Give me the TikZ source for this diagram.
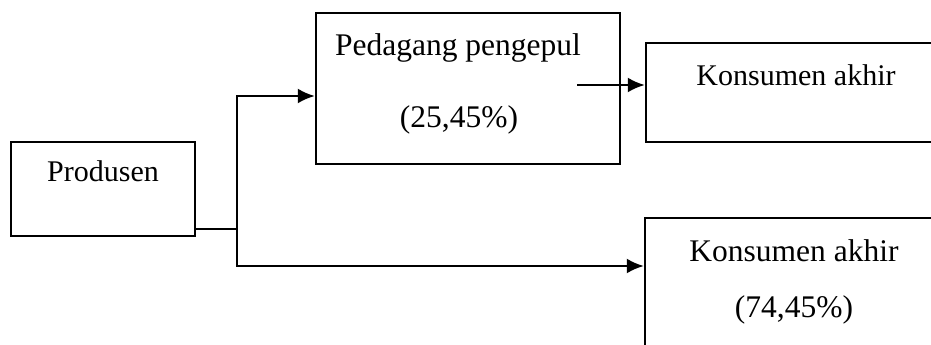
\documentclass[tikz,border=0pt]{standalone}
\usepackage{fontspec}
\setmainfont{Liberation Serif}
\usetikzlibrary{arrows.meta,positioning}
\tikzset{
    flow-box/.style = {draw, line width=1pt, rectangle, inner sep=0pt},
    flow-label/.style = {inner sep=0pt, font=\fontsize{12}{14}\selectfont},
    flow-label-big/.style = {inner sep=0pt, font=\fontsize{12.6}{15}\selectfont},
    flow-arrow/.style = {line width=0.9pt, -{Latex[length=6.8pt,width=6pt]}},
}

\begin{document}
\begin{tikzpicture}[x=0.4pt,y=-0.4pt]
\clip (0,0) rectangle (931,345);
% boxes
\node [flow-box, minimum width=73.6pt, minimum height=37.6pt] (prod) at (103,189) {};
\node [flow-box, minimum width=121.6pt, minimum height=60.4pt] (peda) at (468,88.5) {};
\node [flow-box, minimum width=120pt, minimum height=39.6pt] (kons1) at (796,92.5) {};
\node [flow-box, minimum width=116pt, minimum height=56pt] (kons2) at (790,288) {};
% texts
\node [flow-label] (prod-txt) at (103,171) {Produsen};
\node [flow-label-big] (peda-txt) at (458,47.5) {Pedagang pengepul};
\node [flow-label-big] (peda-pct) at (459,119.5) {(25,45\%)};
\node [flow-label] (kons1-txt) at (796,75) {Konsumen akhir};
\node [flow-label-big] (kons2-txt) at (794,251) {Konsumen akhir};
\node [flow-label-big] (kons2-pct) at (794,310) {(74,45\%)};
% connectors
\coordinate (prod-out) at (195,229);
\coordinate (fork) at (237,229);
\coordinate (peda-out) at (577,85);
\draw [line width=0.9pt] (prod-out) -- (fork);
\draw [flow-arrow] (fork) |- ([yshift=-3pt]peda.west);
\draw [flow-arrow] (fork) |- ([yshift=8.8pt]kons2.west);
\draw [flow-arrow] (peda-out) -- (peda-out -| kons1.west);
\end{tikzpicture}
\end{document}
